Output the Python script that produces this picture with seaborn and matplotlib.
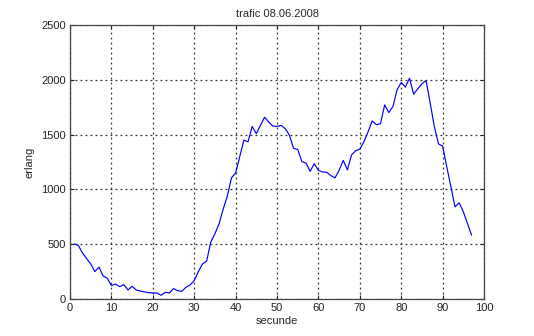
import numpy as np
import pandas as pd
import matplotlib
matplotlib.use("Agg")
import matplotlib.pyplot as plt
import seaborn as sns

seconds = list(range(1, 98))
erlang = [503, 490, 420, 370, 320, 250, 290, 210, 190, 122,
          137, 113, 131, 82, 116, 82, 72, 65, 58, 55,
          55, 34, 61, 55, 95, 76, 70, 107, 128, 168,
          250, 320, 345, 520, 595, 686, 820, 940, 1105, 1150,
          1300, 1449, 1434, 1575, 1509, 1584, 1659, 1614, 1578, 1575,
          1584, 1554, 1494, 1374, 1365, 1254, 1240, 1165, 1234, 1174,
          1159, 1156, 1126, 1105, 1174, 1265, 1178, 1314, 1354, 1366,
          1436, 1526, 1625, 1590, 1600, 1771, 1701, 1756, 1909, 1976,
          1933, 2015, 1869, 1918, 1963, 1994, 1787, 1573, 1415, 1396,
          1207, 1024, 841, 878, 796, 689, 582]
x_ticks = [0, 10, 20, 30, 40, 50, 60, 70, 80, 90, 100]
y_ticks = [0, 500, 1000, 1500, 2000, 2500]
title = "trafic 08.06.2008"

sns.set_style("white")
plt.rcParams['font.family'] = ['Liberation Sans', 'DejaVu Sans']

df = pd.DataFrame({"secunde": seconds, "erlang": erlang})

fig = plt.figure(figsize=(5.34, 3.36), dpi=100)
ax = fig.add_axes([0.1311, 0.1101, 0.7753, 0.8155])
sns.lineplot(data=df, x="secunde", y="erlang", ax=ax, color="#0000ff", linewidth=0.85)

ax.set_xlim(0, 100)
ax.set_ylim(0, 2500)
ax.set_xticks(x_ticks)
ax.set_yticks(y_ticks)
ax.tick_params(direction="in", length=3, width=0.8, labelsize=8, colors="#222222",
               top=True, right=True, bottom=True, left=True, pad=3)
ax.grid(True, color="#333333", linestyle=(0, (1.5, 2.5)), linewidth=0.9)
for s in ax.spines.values():
    s.set_visible(True)
    s.set_color("#444444")
    s.set_linewidth(0.9)
ax.set_title(title, fontsize=8, pad=6)
ax.set_xlabel("secunde", fontsize=8, labelpad=2)
ax.set_ylabel("erlang", fontsize=8, labelpad=5)

fig.savefig("out.png", dpi=100, facecolor="white")
